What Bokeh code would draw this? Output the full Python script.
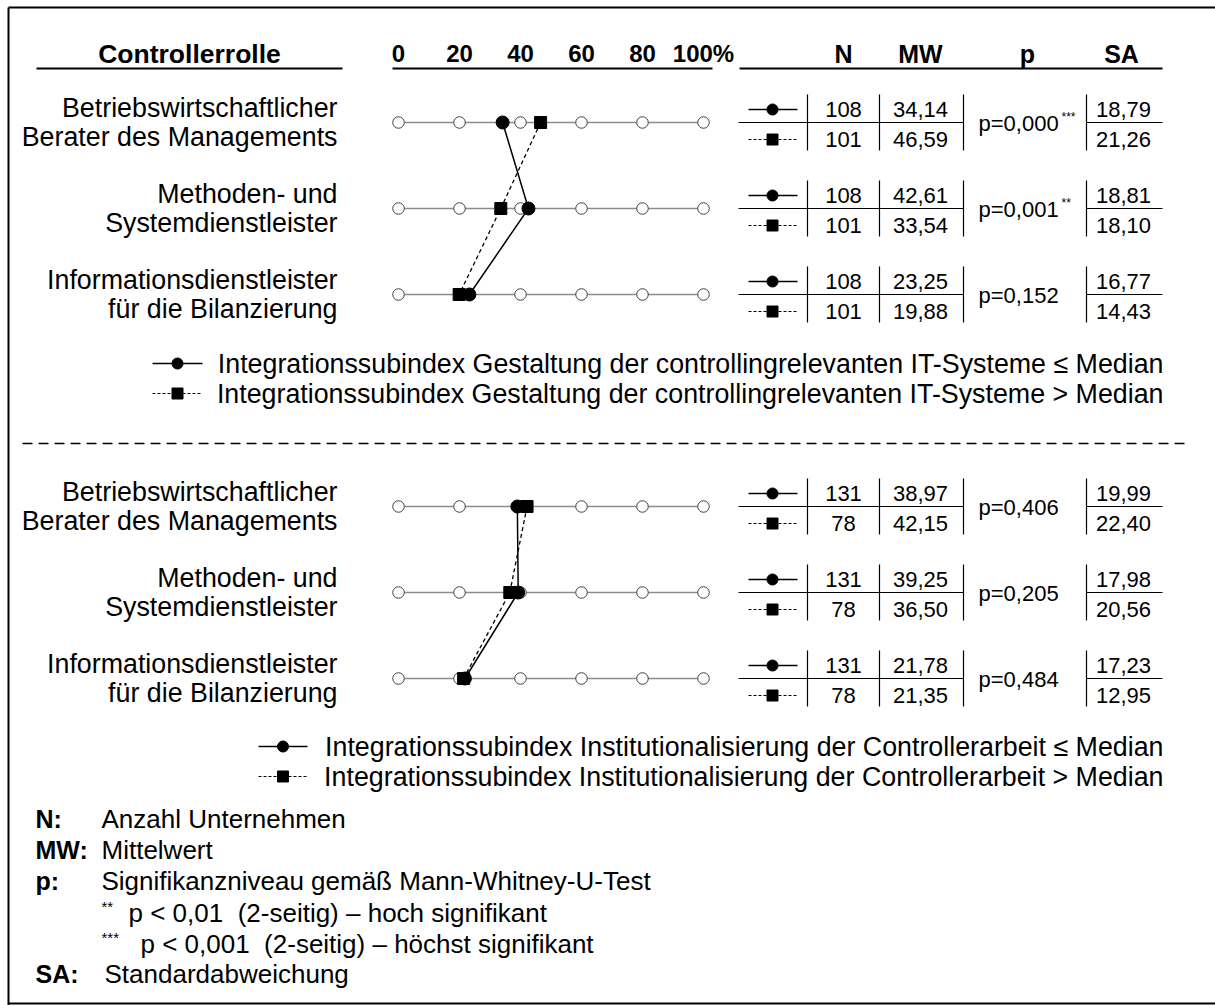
from bokeh.plotting import figure
from bokeh.models import Range1d
from bokeh.core.properties import value
from bokeh.embed import file_html
from bokeh.resources import INLINE

# ---------------------------------------------------------------- data
roles = [
    ["Betriebswirtschaftlicher", "Berater des Managements"],
    ["Methoden- und", "Systemdienstleister"],
    ["Informationsdienstleister", "für die Bilanzierung"],
]
scale_ticks = [0, 20, 40, 60, 80, 100]
scale_labels = ["0", "20", "40", "60", "80", "100%"]
table_headers = ["N", "MW", "p", "SA"]

# Integrationssubindex Gestaltung der controllingrelevanten IT-Systeme
it_n_low = [108, 108, 108]
it_n_high = [101, 101, 101]
it_mw_low = [34.14, 42.61, 23.25]
it_mw_high = [46.59, 33.54, 19.88]
it_p = ["0,000", "0,001", "0,152"]
it_sig = ["***", "**", ""]
it_sa_low = [18.79, 18.81, 16.77]
it_sa_high = [21.26, 18.10, 14.43]
it_legend = [
    "Integrationssubindex Gestaltung der controllingrelevanten IT-Systeme \u2264 Median",
    "Integrationssubindex Gestaltung der controllingrelevanten IT-Systeme > Median",
]

# Integrationssubindex Institutionalisierung der Controllerarbeit
inst_n_low = [131, 131, 131]
inst_n_high = [78, 78, 78]
inst_mw_low = [38.97, 39.25, 21.78]
inst_mw_high = [42.15, 36.50, 21.35]
inst_p = ["0,406", "0,205", "0,484"]
inst_sig = ["", "", ""]
inst_sa_low = [19.99, 17.98, 17.23]
inst_sa_high = [22.40, 20.56, 12.95]
inst_legend = [
    "Integrationssubindex Institutionalisierung der Controllerarbeit \u2264 Median",
    "Integrationssubindex Institutionalisierung der Controllerarbeit > Median",
]

notes = [
    ("N:", "Anzahl Unternehmen"),
    ("MW:", "Mittelwert"),
    ("p:", "Signifikanzniveau gemäß Mann-Whitney-U-Test"),
    ("**", "p < 0,01\u00a0 (2-seitig) \u2013 hoch signifikant"),
    ("***", "p < 0,001\u00a0 (2-seitig) \u2013 höchst signifikant"),
    ("SA:", "Standardabweichung"),
]

# ---------------------------------------------------------------- canvas
W, H = 1215, 1005
PCT0, PX_PER_PCT = 398.0, 3.05          # where 0 % sits and how wide 1 % is
MAIN = 26.8                              # body text size in px

p = figure(width=W, height=H, x_range=Range1d(0, W), y_range=Range1d(H, 0),
           x_axis_type=None, y_axis_type=None, toolbar_location=None,
           output_backend="svg", min_border=0, outline_line_color=None,
           background_fill_color="white", border_fill_color="white")
p.xgrid.visible = False
p.ygrid.visible = False
p.extra_x_ranges = {"pct": Range1d(-PCT0 / PX_PER_PCT, (W - PCT0) / PX_PER_PCT)}

FONT = value("Liberation Sans")


def txt(xs, ys, texts, size, align="left", bold=False, rng="default"):
    p.text(x=xs, y=ys, text=texts, text_font=FONT,
           text_font_size=value(f"{size}px"), text_align=align,
           text_baseline="middle", text_color="black",
           text_font_style="bold" if bold else "normal", x_range_name=rng)


def fmt(v):
    return f"{v:.2f}".replace(".", ",")


# outer frame
p.segment(x0=[8, 8, 8], y0=[7, 7, 1003], x1=[W, 8, W], y1=[7, H, 1003],
          line_color="black", line_width=2)

# ---------------------------------------------------------------- header
txt([189], [53], ["Controllerrolle"], 26.5, "center", True)
txt(scale_ticks, [53] * len(scale_ticks), scale_labels, 24, "center", True, "pct")
txt([843, 920, 1027, 1121], [53] * 4, table_headers, 25, "center", True)
p.segment(x0=[36, 392, 739], y0=[68] * 3, x1=[342, 712, 1162], y1=[68] * 3,
          line_color="black", line_width=2)

ROW_GAP = 86


def block(y0, n_low, n_high, mw_low, mw_high, pvals, sig, sa_low, sa_high):
    ys = [y0 + ROW_GAP * i for i in range(len(roles))]
    for yc, (l1, l2) in zip(ys, roles):
        txt([337, 337], [yc - 15, yc + 14], [l1, l2], MAIN, "right")
        # percentage scale with open circles
        p.line(x=[scale_ticks[0], scale_ticks[-1]], y=[yc, yc], x_range_name="pct",
               line_color="#8c8c8c", line_width=1.6)
        p.scatter(x=scale_ticks, y=[yc] * len(scale_ticks), x_range_name="pct",
                  marker="circle", size=11.5, fill_color="white",
                  line_color="#404040", line_width=1)
    # profile lines of the two groups
    p.line(x=mw_low, y=ys, x_range_name="pct", line_color="black", line_width=1.5)
    p.line(x=mw_high, y=ys, x_range_name="pct", line_color="black", line_width=1.3,
           line_dash="4 3")
    p.scatter(x=mw_low, y=ys, x_range_name="pct", marker="circle", size=13,
              fill_color="black", line_color="black")
    p.scatter(x=mw_high, y=ys, x_range_name="pct", marker="square", size=12,
              fill_color="black", line_color="black")

    # statistics table
    for i, yc in enumerate(ys):
        up, lo = yc - 13, yc + 17
        p.segment(x0=[738, 1086], y0=[yc, yc], x1=[963, 1162], y1=[yc, yc],
                  line_color="black", line_width=1.2)
        p.segment(x0=[807, 879, 963, 1086], y0=[yc - 28] * 4,
                  x1=[807, 879, 963, 1086], y1=[yc + 28] * 4,
                  line_color="black", line_width=1.2)
        p.line(x=[748, 797], y=[up, up], line_color="black", line_width=1.3)
        p.scatter(x=[772], y=[up], marker="circle", size=11, fill_color="black",
                  line_color="black")
        p.line(x=[748, 797], y=[lo, lo], line_color="black", line_width=1,
               line_dash="3 2")
        p.scatter(x=[772], y=[lo], marker="square", size=11, fill_color="black",
                  line_color="black")
        txt([843, 843], [up, lo], [str(n_low[i]), str(n_high[i])], 22, "center")
        txt([920, 920], [up, lo], [fmt(mw_low[i]), fmt(mw_high[i])], 22, "center")
        txt([978], [yc + 1], ["p=" + pvals[i]], 22, "left")
        if sig[i]:
            txt([1061], [yc - 6], [sig[i]], 12, "left")
        txt([1123, 1123], [up, lo], [fmt(sa_low[i]), fmt(sa_high[i])], 22, "center")
    return ys


def legend(y_a, x_marker, labels):
    y_b = y_a + 30
    x_mid = (x_marker[0] + x_marker[1]) / 2
    p.line(x=x_marker, y=[y_a, y_a], line_color="black", line_width=1.5)
    p.scatter(x=[x_mid], y=[y_a], marker="circle", size=11, fill_color="black",
              line_color="black")
    p.line(x=x_marker, y=[y_b, y_b], line_color="black", line_width=1,
           line_dash="3 2")
    p.scatter(x=[x_mid], y=[y_b], marker="square", size=11, fill_color="black",
              line_color="black")
    txt([1163, 1163], [y_a, y_b], labels, MAIN, "right")


block(122, it_n_low, it_n_high, it_mw_low, it_mw_high, it_p, it_sig,
      it_sa_low, it_sa_high)
legend(363, [152, 202], it_legend)

p.line(x=[22, 1188], y=[443, 443], line_color="black", line_width=1.4,
       line_dash="10 6")

block(506, inst_n_low, inst_n_high, inst_mw_low, inst_mw_high, inst_p, inst_sig,
      inst_sa_low, inst_sa_high)
legend(746, [258, 307], inst_legend)

# ---------------------------------------------------------------- notes
note_y = [818, 849, 880, 912, 943, 973]
for (key, body), yy in zip(notes, note_y):
    if key.startswith("*"):
        txt([101], [yy - 6], [key], 15, "left")
        txt([128 if len(key) == 2 else 140], [yy], [body], 26, "left")
    else:
        txt([35], [yy], [key], 25, "left", True)
        txt([101 if key != "SA:" else 104], [yy], [body], 26, "left")

open("out.html", "w").write(file_html(p, INLINE))
